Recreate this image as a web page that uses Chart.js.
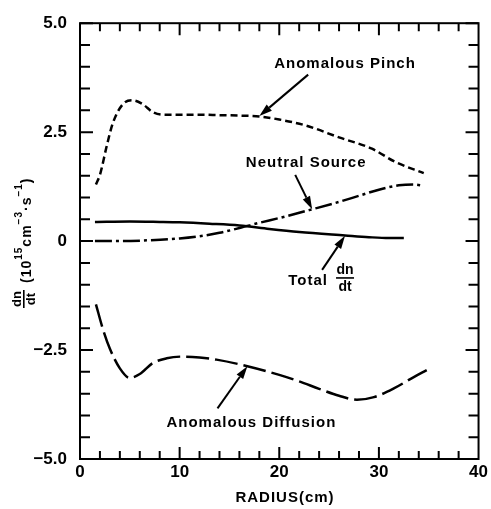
<!DOCTYPE html>
<html>
<head>
<meta charset="utf-8">
<script src="https://cdn.jsdelivr.net/npm/chart.js@4.4.1/dist/chart.umd.min.js"></script>
<style>
  html, body { margin: 0; padding: 0; background: #fff; }
  canvas { display: block; }
</style>
</head>
<body>
<canvas id="fluxChart" width="491" height="509"></canvas>
<script>
// values, radius in cm, dn/dt in 10^15 cm^-3 s^-1
const pinchRadius = [1.6, 2.0, 2.7, 3.3, 4.3, 5.3, 6.3, 7.3, 8.3, 10, 12, 14, 16, 18, 20, 22.7, 26, 29.3, 31.7, 34.5];
const pinchValues = [1.30, 1.52, 2.20, 2.71, 3.14, 3.23, 3.14, 2.96, 2.90, 2.90, 2.90, 2.89, 2.88, 2.86, 2.79, 2.65, 2.38, 2.12, 1.81, 1.56];

const neutralRadius = [1.5, 4, 7, 10, 12, 14, 16, 18, 20, 23.3, 26, 28, 30, 32, 33.5, 34.5];
const neutralValues = [0.00, 0.00, 0.02, 0.06, 0.11, 0.19, 0.30, 0.42, 0.53, 0.73, 0.90, 1.04, 1.18, 1.28, 1.30, 1.27];

const totalRadius = [1.5, 5, 8, 10, 13, 16, 19, 22, 26.6, 29, 31, 32.5];
const totalValues = [0.44, 0.45, 0.44, 0.43, 0.40, 0.36, 0.28, 0.21, 0.13, 0.09, 0.07, 0.07];

const diffusionRadius = [1.6, 2.3, 3.0, 4.0, 5.0, 6.0, 7.3, 8.7, 10.3, 12, 13.7, 16.8, 20, 22, 24, 26, 27.8, 29.5, 31.5, 33.5, 34.8];
const diffusionValues = [-1.45, -2.02, -2.47, -2.92, -3.14, -3.05, -2.80, -2.69, -2.65, -2.67, -2.72, -2.87, -3.07, -3.22, -3.39, -3.55, -3.64, -3.58, -3.38, -3.12, -2.96];

const xTickLabels = [0, 10, 20, 30, 40];
const yTickLabels = [-5, -2.5, 0, 2.5, 5];

// labels with arrows, in data units
const notes = [
    { text: 'Anomalous Pinch', at: [26.6, 4.07], tail: [22.9, 3.82], tip: [18.0, 2.87] },
    { text: 'Neutral Source', at: [22.7, 1.79], tail: [21.6, 1.52], tip: [23.3, 0.73] },
    { text: 'Anomalous Diffusion', at: [17.2, -4.16], tail: [13.8, -3.84], tip: [16.8, -2.87] }
];
const totalNote = { at: [22.9, -0.91], frac: [26.6, -0.85], tail: [24.3, -0.66], tip: [26.6, 0.12] };

function toPoints(xs, ys) {
    return xs.map((r, i) => ({ x: r, y: ys[i] }));
}

const FONT = '"Liberation Sans", Arial, sans-serif';

function arrow(ctx, x1, y1, x2, y2) {
    const ang = Math.atan2(y2 - y1, x2 - x1);
    const len = 13, half = 4;
    const bx = x2 - len * Math.cos(ang), by = y2 - len * Math.sin(ang);
    ctx.beginPath();
    ctx.moveTo(x1, y1);
    ctx.lineTo(bx, by);
    ctx.lineWidth = 2;
    ctx.stroke();
    ctx.beginPath();
    ctx.moveTo(x2, y2);
    ctx.lineTo(bx + half * Math.sin(ang), by - half * Math.cos(ang));
    ctx.lineTo(bx - half * Math.sin(ang), by + half * Math.cos(ang));
    ctx.closePath();
    ctx.fill();
}

function drawYTitle(ctx) {
    ctx.save();
    ctx.translate(31, 308);
    ctx.rotate(-Math.PI / 2);
    ctx.fillStyle = '#000';
    ctx.textBaseline = 'alphabetic';
    ctx.textAlign = 'center';
    ctx.font = 'bold 13px ' + FONT;
    ctx.fillText('dn', 9, -10);
    ctx.fillRect(0, -8, 18, 1.6);
    ctx.fillText('dt', 9, 3.5);
    ctx.textAlign = 'left';
    ctx.letterSpacing = '1px';
    let px = 25;
    const parts = [['(10', 14, 0], ['15', 10, -9], ['cm', 14, 0], ['\u22123', 10, -9], ['\u00b7s', 14, 0], ['\u22121', 10, -9], [')', 14, 0]];
    for (const [t, size, dy] of parts) {
        ctx.font = 'bold ' + size + 'px ' + FONT;
        ctx.fillText(t, px, dy);
        px += ctx.measureText(t).width;
    }
    ctx.restore();
}

const framePlugin = {
    id: 'framePlugin',
    afterDraw(chart) {
        const { ctx, chartArea: a, scales: { x, y } } = chart;
        ctx.save();
        ctx.strokeStyle = '#000';
        ctx.fillStyle = '#000';
        ctx.lineWidth = 2;
        ctx.strokeRect(a.left, a.top, a.right - a.left, a.bottom - a.top);

        // inward ticks
        ctx.beginPath();
        for (let i = -10; i <= 10; i++) {
            const py = y.getPixelForValue(i / 2);
            const len = i % 5 === 0 ? 13 : 10;
            ctx.moveTo(a.left, py); ctx.lineTo(a.left + len, py);
            ctx.moveTo(a.right, py); ctx.lineTo(a.right - len, py);
        }
        for (let i = 1; i < 20; i++) {
            const px = x.getPixelForValue(i * 2);
            const len = i % 5 === 0 ? 12 : 8;
            ctx.moveTo(px, a.bottom); ctx.lineTo(px, a.bottom - len);
            ctx.moveTo(px, a.top); ctx.lineTo(px, a.top + len);
        }
        ctx.stroke();

        // curve labels
        ctx.font = 'bold 15px ' + FONT;
        ctx.letterSpacing = '1px';
        ctx.textAlign = 'center';
        ctx.textBaseline = 'middle';
        notes.forEach(n => {
            ctx.fillText(n.text, x.getPixelForValue(n.at[0]), y.getPixelForValue(n.at[1]));
            arrow(ctx, x.getPixelForValue(n.tail[0]), y.getPixelForValue(n.tail[1]),
                x.getPixelForValue(n.tip[0]), y.getPixelForValue(n.tip[1]));
        });
        ctx.fillText('Total', x.getPixelForValue(totalNote.at[0]), y.getPixelForValue(totalNote.at[1]));
        const fx = x.getPixelForValue(totalNote.frac[0]), fy = y.getPixelForValue(totalNote.frac[1]);
        ctx.font = 'bold 14px ' + FONT;
        ctx.letterSpacing = '0px';
        ctx.fillText('dn', fx, fy - 8);
        ctx.fillRect(fx - 9, fy - 1, 18, 1.6);
        ctx.fillText('dt', fx, fy + 9);
        arrow(ctx, x.getPixelForValue(totalNote.tail[0]), y.getPixelForValue(totalNote.tail[1]),
            x.getPixelForValue(totalNote.tip[0]), y.getPixelForValue(totalNote.tip[1]));

        // axis titles
        ctx.font = 'bold 15px ' + FONT;
        ctx.letterSpacing = '1px';
        ctx.fillText('RADIUS(cm)', 285, 498);
        ctx.restore();
        drawYTitle(ctx);
    }
};

const lineStyle = {
    borderColor: '#000',
    borderWidth: 2.5,
    pointRadius: 0,
    fill: false,
    cubicInterpolationMode: 'monotone'
};

const ctx = document.getElementById('fluxChart').getContext('2d');
new Chart(ctx, {
    type: 'line',
    data: {
        datasets: [
            Object.assign({ label: 'Anomalous Pinch', data: toPoints(pinchRadius, pinchValues), borderDash: [7, 4] }, lineStyle),
            Object.assign({ label: 'Neutral Source', data: toPoints(neutralRadius, neutralValues), borderDash: [17, 4, 3, 4] }, lineStyle),
            Object.assign({ label: 'Total dn/dt', data: toPoints(totalRadius, totalValues), borderDash: [] }, lineStyle),
            Object.assign({ label: 'Anomalous Diffusion', data: toPoints(diffusionRadius, diffusionValues), borderDash: [23, 6] }, lineStyle)
        ]
    },
    options: {
        responsive: false,
        animation: false,
        devicePixelRatio: 1,
        layout: { padding: { top: 15, right: 12, left: 0, bottom: 0 } },
        plugins: {
            legend: { display: false },
            tooltip: { enabled: false }
        },
        scales: {
            x: {
                type: 'linear',
                min: 0,
                max: 40,
                afterBuildTicks: s => { s.ticks = xTickLabels.map(v => ({ value: v })); },
                afterFit: s => { s.height = 50; },
                grid: { display: false, drawTicks: false },
                border: { display: false },
                ticks: {
                    color: '#000',
                    padding: 3,
                    maxRotation: 0,
                    font: { family: FONT, size: 17, weight: 'bold' }
                }
            },
            y: {
                min: -5,
                max: 5,
                afterBuildTicks: s => { s.ticks = yTickLabels.map(v => ({ value: v })); },
                afterFit: s => { s.width = 80; },
                grid: { display: false, drawTicks: false },
                border: { display: false },
                ticks: {
                    color: '#000',
                    padding: 13,
                    font: { family: FONT, size: 17, weight: 'bold' },
                    callback: v => v === 0 ? '0' : (v < 0 ? '\u2212' : '') + Math.abs(v).toFixed(1)
                }
            }
        }
    },
    plugins: [framePlugin]
});
</script>
</body>
</html>
